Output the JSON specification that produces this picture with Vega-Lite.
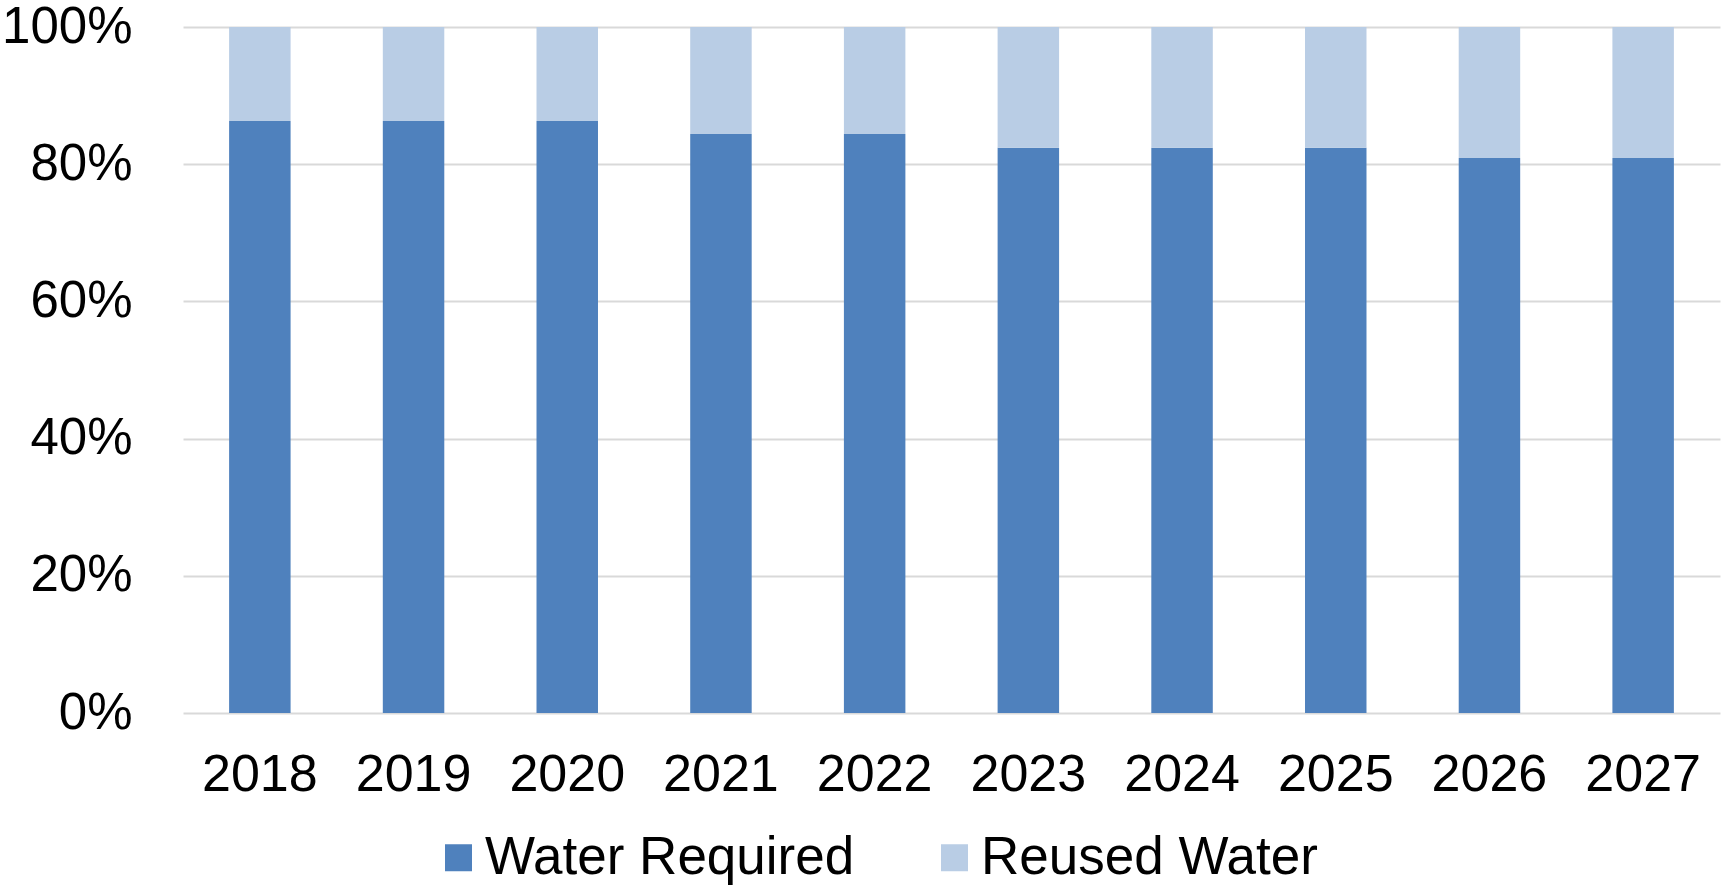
{
  "$schema": "https://vega.github.io/schema/vega-lite/v6.json",
  "width": 1537,
  "height": 686,
  "autosize": {"type": "none"},
  "padding": {"left": 183, "top": 27, "right": 1, "bottom": 172},
  "background": "white",
  "config": {
    "view": {"stroke": null},
    "font": "Liberation Sans",
    "axis": {"labelFont": "Liberation Sans", "labelColor": "#000000"},
    "legend": {"labelFont": "Liberation Sans", "labelColor": "#000000"}
  },
  "data": {
    "values": [
      {"year": "2018", "series": "Water Required", "value": 86.3},
      {"year": "2018", "series": "Reused Water", "value": 13.7},
      {"year": "2019", "series": "Water Required", "value": 86.3},
      {"year": "2019", "series": "Reused Water", "value": 13.7},
      {"year": "2020", "series": "Water Required", "value": 86.3},
      {"year": "2020", "series": "Reused Water", "value": 13.7},
      {"year": "2021", "series": "Water Required", "value": 84.4},
      {"year": "2021", "series": "Reused Water", "value": 15.6},
      {"year": "2022", "series": "Water Required", "value": 84.4},
      {"year": "2022", "series": "Reused Water", "value": 15.6},
      {"year": "2023", "series": "Water Required", "value": 82.4},
      {"year": "2023", "series": "Reused Water", "value": 17.6},
      {"year": "2024", "series": "Water Required", "value": 82.4},
      {"year": "2024", "series": "Reused Water", "value": 17.6},
      {"year": "2025", "series": "Water Required", "value": 82.4},
      {"year": "2025", "series": "Reused Water", "value": 17.6},
      {"year": "2026", "series": "Water Required", "value": 80.9},
      {"year": "2026", "series": "Reused Water", "value": 19.1},
      {"year": "2027", "series": "Water Required", "value": 80.9},
      {"year": "2027", "series": "Reused Water", "value": 19.1}
    ]
  },
  "mark": {"type": "bar"},
  "encoding": {
    "x": {
      "field": "year",
      "type": "ordinal",
      "scale": {"paddingInner": 0.6, "paddingOuter": 0.3},
      "axis": {
        "title": null,
        "labelAngle": 0,
        "labelFontSize": 52,
        "labelPadding": 36,
        "ticks": false,
        "tickSize": 0,
        "domain": false,
        "grid": false
      }
    },
    "y": {
      "field": "value",
      "type": "quantitative",
      "stack": "normalize",
      "scale": {"domain": [0, 1], "nice": false},
      "axis": {
        "title": null,
        "values": [0, 0.2, 0.4, 0.6, 0.8, 1],
        "format": ".0%",
        "labelFontSize": 51,
        "labelPadding": 51,
        "ticks": false,
        "tickSize": 0,
        "domain": false,
        "grid": true,
        "gridColor": "#d9d9d9",
        "gridWidth": 2,
        "zindex": 0
      }
    },
    "color": {
      "field": "series",
      "type": "nominal",
      "scale": {"domain": ["Water Required", "Reused Water"], "range": ["#4F81BD", "#B9CDE5"]},
      "legend": {
        "title": null,
        "orient": "none",
        "direction": "horizontal",
        "legendX": 249,
        "legendY": 804,
        "symbolType": "square",
        "symbolSize": 729,
        "symbolStrokeWidth": 0,
        "labelFontSize": 53,
        "labelOffset": 0,
        "labelLimit": 600,
        "columnPadding": 73
      }
    },
    "order": {"field": "series", "sort": "descending"}
  }
}
